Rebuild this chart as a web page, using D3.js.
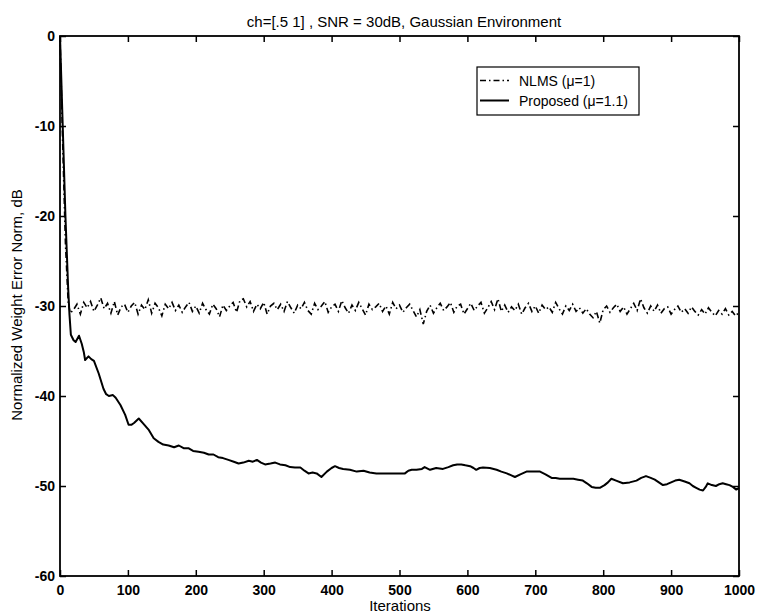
<!DOCTYPE html>
<html>
<head>
<meta charset="utf-8">
<script src="https://cdn.jsdelivr.net/npm/d3@7"></script>
<style>
  html, body { margin: 0; padding: 0; background: #fff; }
  svg { display: block; font-family: "Liberation Sans", Arial, Helvetica, sans-serif; }
</style>
</head>
<body>
<svg id="chart" width="759" height="615"></svg>
<script>
// ---- chart text ----
const titleText = "ch=[.5 1] , SNR = 30dB, Gaussian Environment";
const xLabel = "Iterations";
const yLabel = "Normalized Weight Error Norm, dB";
const seriesNames = ["NLMS (\u03bc=1)", "Proposed (\u03bc=1.1)"];
const xTicks = [0, 100, 200, 300, 400, 500, 600, 700, 800, 900, 1000];
const yTicks = [0, -10, -20, -30, -40, -50, -60];

// ---- NLMS (mu = 1): initial transient, then every 5 iterations from 20 ----
const nlmsHeadIter = [0, 4, 8, 12, 15];
const nlmsHeadVal = [0, -12, -23, -29.5, -30.8];
const nlmsTailStart = 20;
const nlmsTailStep = 5;
const nlmsTailVal = [
  -30.4, -29.8, -30.9, -29.6, -30.2, -29.5, -30.6, -29.9, -29.1, -30.3,
  -29.7, -30.8, -29.5, -31.0, -30.1, -29.8, -30.7, -30.0, -29.6, -30.9,
  -29.9, -30.4, -29.3, -30.8, -29.7, -30.2, -31.1, -29.8, -30.3, -29.6,
  -30.5, -29.9, -30.7, -30.1, -29.6, -30.6, -30.0, -30.8, -29.7, -30.4,
  -30.9, -29.8, -30.3, -31.2, -29.9, -30.5, -30.0, -29.6, -30.7, -29.4,
  -29.2, -30.1, -29.5, -30.6, -29.8, -30.3, -29.6, -30.9, -30.0, -29.7,
  -30.4, -29.8, -30.6, -29.5, -30.2, -30.8, -29.9, -30.3, -29.6, -30.5,
  -30.9, -29.7, -30.4, -30.0, -29.5, -30.7, -30.1, -29.8, -30.6, -29.4,
  -30.2, -30.8, -29.9, -30.5, -29.6, -30.3, -31.0, -29.8, -30.4, -30.1,
  -29.7, -30.6, -30.0, -30.9, -29.6, -30.3, -29.9, -30.7, -30.2, -29.8,
  -30.5, -31.2, -30.4, -32.0, -30.6, -29.9, -30.8, -30.2, -29.7, -30.5,
  -30.1, -29.6, -30.7, -30.0, -29.8, -30.9, -30.3, -29.7, -30.5, -30.0,
  -29.6, -30.8, -30.2, -29.5, -30.4, -29.2, -30.6, -29.9, -30.7, -30.1,
  -30.5, -29.8, -30.9, -30.2, -29.7, -30.6, -30.0, -30.8, -29.9, -30.4,
  -30.1, -30.7, -29.6, -30.3, -30.9, -30.0, -30.5, -29.8, -30.6, -30.2,
  -30.8, -30.3, -30.9, -31.3, -30.6, -31.9, -30.4, -30.0, -30.7, -30.2,
  -29.8, -30.6, -30.1, -30.9, -30.3, -29.7, -30.5, -29.2, -30.2, -30.8,
  -30.0, -30.6, -29.9, -30.8, -30.3, -30.1, -30.9, -30.4, -30.0, -30.7,
  -30.3, -30.8, -30.1, -30.6, -31.0, -30.4, -30.9, -30.2, -30.7, -31.1,
  -30.5, -30.9, -30.3, -31.0, -30.6, -31.1, -30.7
];

// ---- Proposed (mu = 1.1): iteration / error-norm pairs ----
const propIter = [
  0, 4, 8, 12, 14, 16, 20, 23, 28, 32, 35, 37, 42, 46, 50, 57, 64, 68, 72, 78,
  82, 89, 96, 101, 105, 109, 116, 123, 131, 138, 145, 152, 160, 168, 175, 182, 189, 196, 204, 212,
  219, 226, 233, 240, 248, 256, 263, 270, 278, 284, 290, 296, 302, 310, 317, 324, 332, 339, 346, 354,
  360, 366, 372, 378, 385, 393, 400, 405, 411, 417, 427, 437, 447, 456, 466, 476, 486, 497, 508, 513,
  518, 525, 533, 537, 545, 554, 564, 572, 579, 585, 591, 597, 604, 609, 613, 618, 623, 633, 643, 650,
  658, 664, 670, 678, 687, 697, 707, 715, 724, 730, 736, 746, 756, 763, 770, 776, 783, 789, 795, 802,
  807, 812, 819, 829, 839, 849, 856, 863, 870, 876, 882, 888, 894, 900, 906, 912, 920, 927, 932, 937,
  942, 947, 951, 954, 960, 966, 971, 976, 981, 986, 991, 996, 1000
];
const propVal = [
  0, -10, -20, -28, -31, -33.2, -33.8, -34.0, -33.3, -34.2, -35.1, -36.0, -35.6, -35.9, -36.1, -37.5, -39.2, -39.8, -40.0, -39.9,
  -40.2, -41.0, -42.1, -43.2, -43.2, -43.0, -42.5, -43.1, -43.8, -44.7, -45.1, -45.4, -45.5, -45.7, -45.5, -45.8, -45.8, -46.1, -46.2, -46.3,
  -46.5, -46.5, -46.8, -46.9, -47.1, -47.3, -47.5, -47.4, -47.2, -47.3, -47.1, -47.4, -47.6, -47.5, -47.4, -47.6, -47.7, -47.9, -47.95, -47.95,
  -48.3, -48.6, -48.5, -48.6, -49.0, -48.4, -48.0, -47.8, -48.0, -48.1, -48.2, -48.4, -48.3, -48.5, -48.6, -48.6, -48.6, -48.6, -48.6, -48.3,
  -48.2, -48.2, -48.1, -47.9, -48.2, -48.0, -48.1, -47.9, -47.7, -47.6, -47.6, -47.7, -47.8, -48.0, -48.2, -48.0, -47.95, -48.0, -48.2, -48.4,
  -48.6, -48.8, -49.0, -48.7, -48.4, -48.4, -48.4, -48.7, -49.1, -49.1, -49.2, -49.2, -49.2, -49.3, -49.4, -49.7, -50.1, -50.2, -50.2, -49.9,
  -49.6, -49.2, -49.4, -49.7, -49.6, -49.4, -49.1, -48.9, -49.1, -49.3, -49.6, -49.9, -49.8, -49.6, -49.4, -49.3, -49.5, -49.7, -50.0, -50.2,
  -50.4, -50.5, -50.1, -49.7, -49.9, -50.0, -49.8, -49.7, -49.8, -49.9, -50.1, -50.4, -50.2
];

// ---- layout ----
const svg = d3.select("#chart");
const plot = { left: 60, right: 739, top: 36, bottom: 576 };

const x = d3.scaleLinear().domain([0, 1000]).range([plot.left, plot.right]);
const y = d3.scaleLinear().domain([-60, 0]).range([plot.bottom, plot.top]);

// assemble series points
const nlmsPoints = nlmsHeadIter.map((it, i) => [it, nlmsHeadVal[i]])
  .concat(nlmsTailVal.map((v, i) => [nlmsTailStart + i * nlmsTailStep, v]));
const propPoints = propIter.map((it, i) => [it, propVal[i]]);

const line = d3.line().x(d => x(d[0])).y(d => y(d[1]));

// ---- axes (ticks point inward, box around the plot) ----
const tickLen = 6;
const fontTick = "14px";

const gBottom = svg.append("g").attr("transform", `translate(0,${plot.bottom})`)
  .call(d3.axisBottom(x).tickValues(xTicks).tickSizeInner(-tickLen).tickSizeOuter(0).tickPadding(9).tickFormat(d3.format("d")));
const gLeft = svg.append("g").attr("transform", `translate(${plot.left},0)`)
  .call(d3.axisLeft(y).tickValues(yTicks).tickSizeInner(-tickLen).tickSizeOuter(0).tickPadding(5)
    .tickFormat(d => d === 0 ? "0" : "-" + Math.abs(d)));
const gTop = svg.append("g").attr("transform", `translate(0,${plot.top})`)
  .call(d3.axisTop(x).tickValues(xTicks).tickSizeInner(-tickLen).tickSizeOuter(0).tickFormat(""));
const gRight = svg.append("g").attr("transform", `translate(${plot.right},0)`)
  .call(d3.axisRight(y).tickValues(yTicks).tickSizeInner(-tickLen).tickSizeOuter(0).tickFormat(""));

[gBottom, gLeft, gTop, gRight].forEach(g => {
  g.select(".domain").remove();
  g.selectAll(".tick line").attr("stroke", "#000").attr("stroke-width", 1.5);
  g.selectAll(".tick text").attr("fill", "#000")
    .style("font-size", fontTick).style("font-weight", "bold")
    .style("font-family", "'Liberation Sans', Arial, sans-serif");
});

// ---- data lines ----
svg.append("path").datum(nlmsPoints)
  .attr("d", line).attr("fill", "none").attr("stroke", "#000")
  .attr("stroke-width", 1.6).attr("stroke-dasharray", "6,3,1.5,3");

svg.append("path").datum(propPoints)
  .attr("d", line).attr("fill", "none").attr("stroke", "#000")
  .attr("stroke-width", 2).attr("stroke-linejoin", "round");

// plot frame
svg.append("rect")
  .attr("x", plot.left).attr("y", plot.top)
  .attr("width", plot.right - plot.left).attr("height", plot.bottom - plot.top)
  .attr("fill", "none").attr("stroke", "#000").attr("stroke-width", 1.8);

// ---- titles ----
svg.append("text").attr("x", 404).attr("y", 27).attr("text-anchor", "middle")
  .style("font-size", "15px").text(titleText);
svg.append("text").attr("x", 400).attr("y", 611).attr("text-anchor", "middle")
  .style("font-size", "15px").text(xLabel);
svg.append("text").attr("transform", "translate(22,305) rotate(-90)").attr("text-anchor", "middle")
  .style("font-size", "15px").text(yLabel);

// ---- legend ----
const legend = svg.append("g");
legend.append("rect").attr("x", 477).attr("y", 67).attr("width", 162).attr("height", 48)
  .attr("fill", "#fff").attr("stroke", "#000").attr("stroke-width", 1.2);
const legendRows = [
  { name: seriesNames[0], dash: "6,3,1.5,3", width: 1.6, yc: 80.5 },
  { name: seriesNames[1], dash: null, width: 2, yc: 100.5 }
];
legendRows.forEach(r => {
  legend.append("line").attr("x1", 480).attr("x2", 509).attr("y1", r.yc).attr("y2", r.yc)
    .attr("stroke", "#000").attr("stroke-width", r.width)
    .attr("stroke-dasharray", r.dash);
  legend.append("text").attr("x", 519).attr("y", r.yc + 5)
    .style("font-size", "14px").text(r.name);
});
</script>
</body>
</html>
